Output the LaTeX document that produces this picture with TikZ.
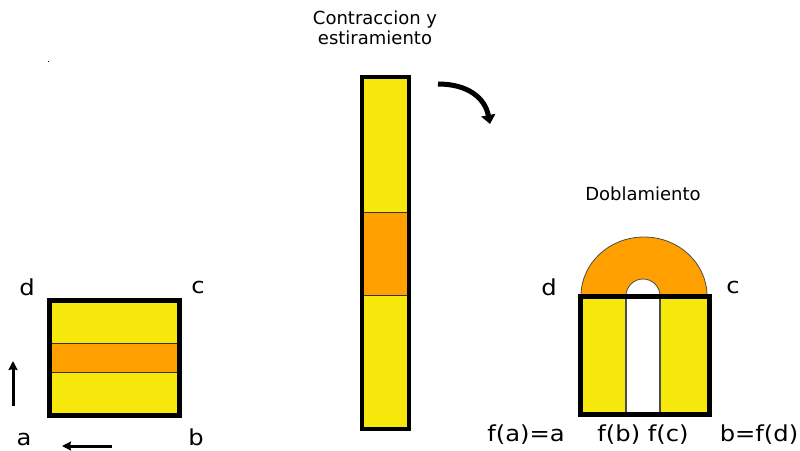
\documentclass[tikz,border=0pt]{standalone}
\usepackage{fontspec}
\setmainfont{DejaVu Sans}
\newfontfamily\widefont[FakeStretch=1.1]{DejaVu Sans}
\usetikzlibrary{arrows.meta}
\definecolor{yel}{RGB}{245,232,10}
\definecolor{ora}{RGB}{255,160,0}
\begin{document}
\begin{tikzpicture}[x=1pt,y=-1pt,
  lbl/.style={inner sep=0pt,font=\widefont\fontsize{22}{24}\selectfont},
  ttl/.style={inner sep=0pt,align=center,font=\fontsize{18}{20.5}\selectfont},
  frame/.style={draw=black,line width=5pt},
  thin/.style={draw=black!80,line width=1pt},
  smallarrow/.style={line width=3pt,-{Stealth[length=9pt,width=9pt,inset=1pt]}}]
\useasboundingbox (0,0) rectangle (800,450);
% tiny dot
\fill (47.5,60.5) rectangle (49,62);
% left square
\fill[yel] (49.5,300.5) rectangle (179.5,415.5);
\filldraw[fill=ora,thin] (49.5,343) rectangle (179.5,372);
\draw[frame] (49.5,300.5) rectangle (179.5,415.5);
\node[lbl] (d1) at (27,287) {d};
\node[lbl] (c1) at (198,287) {c};
\node[lbl] (a1) at (24,439) {a};
\node[lbl] (b1) at (196,437) {b};
\coordinate (u1) at (13,406); \coordinate (u2) at (13,361);
\coordinate (l1) at (112,446); \coordinate (l2) at (62,446);
\draw[smallarrow] (u1) -- (u2);
\draw[smallarrow] (l1) -- (l2);
% tall bar
\node[ttl] (t1) at (375,28) {Contraccion y\\estiramiento};
\fill[yel] (362,77) rectangle (409,429);
\filldraw[fill=ora,thin] (362,212) rectangle (409,295);
\draw[black,line width=4pt] (362,77) rectangle (409,429);
% curved arrow
\coordinate (ca) at (438,84);
\coordinate (cb) at (490,124);
\draw[line width=5pt,-{Triangle[length=9pt,width=14pt]}] (ca) .. controls (468,84) and (485,98) .. (cb);
% horseshoe
\node[ttl] (t2) at (643,194) {Doblamiento};
\filldraw[fill=ora,draw=black!70,line width=0.8pt] (581,296) arc[start angle=180,end angle=360,x radius=63,y radius=59] -- (660,296) arc[start angle=360,end angle=180,radius=17] -- cycle;
\fill[yel] (580,296) rectangle (626,414);
\fill[yel] (660,296) rectangle (709,414);
\draw[black!70,line width=1.2pt] (626,296) -- (626,414) (660,296) -- (660,414);
\draw[frame] (580,296) rectangle (709,414);
\node[lbl] (d2) at (549,287) {d};
\node[lbl] (c2) at (733,287) {c};
\node[lbl] (fa) at (526,435) {f(a)=a};
\node[lbl] (fbc) at (643,435) {f(b) f(c)};
\node[lbl] (fd) at (759,435) {b=f(d)};
\end{tikzpicture}
\end{document}
